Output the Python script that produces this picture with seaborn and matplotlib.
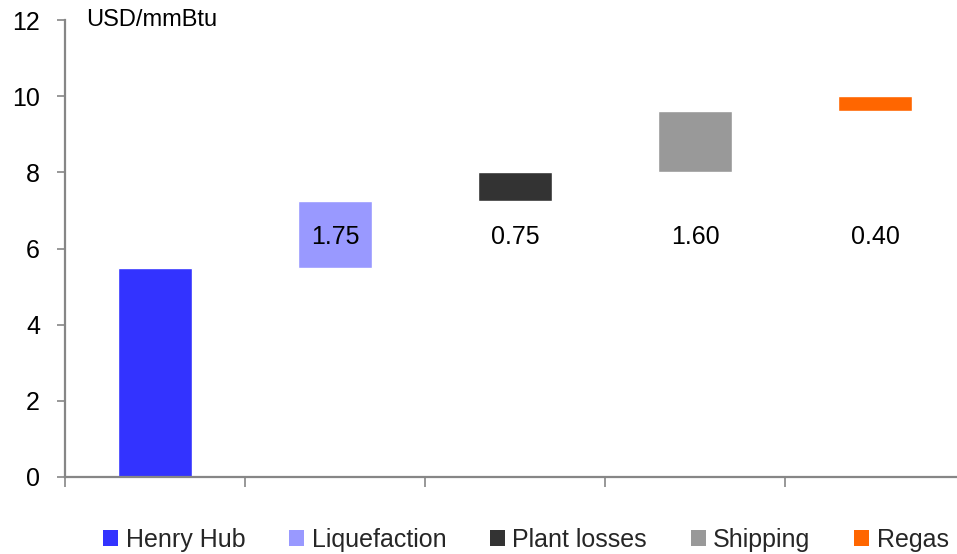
import numpy as np
import pandas as pd
import matplotlib
matplotlib.use("Agg")
import matplotlib.pyplot as plt
import matplotlib.patches as mpatches
import seaborn as sns

# LNG cost build-up, USD/mmBtu
categories = ["Henry Hub", "Liquefaction", "Plant losses", "Shipping", "Regas"]
steps = [5.50, 1.75, 0.75, 1.60, 0.40]
step_labels = ["", "1.75", "0.75", "1.60", "0.40"]
colors = ["#3333FF", "#9999FF", "#333333", "#999999", "#FF6600"]
y_ticks = [0, 2, 4, 6, 8, 10, 12]

bases = np.concatenate([[0.0], np.cumsum(steps)[:-1]])
df = pd.DataFrame({"item": categories, "step": steps, "base": bases})

sns.set_theme(style="white")
plt.rcParams["font.family"] = ["Liberation Sans", "DejaVu Sans"]

fig = plt.figure(figsize=(9.57, 5.54), dpi=100)
ax = fig.add_axes([65 / 957, 1 - 477 / 554, 1 - 65 / 957, (477 - 20) / 554])

sns.barplot(data=df, x="item", y="step", hue="item", palette=colors,
            order=categories, hue_order=categories, width=0.41,
            legend=False, saturation=1, ax=ax)

# float each step on top of the running total
for container, base in zip(ax.containers, bases):
    for patch in container:
        patch.set_y(base)

for i, txt in enumerate(step_labels):
    if txt:
        ax.text(i, 6.3, txt, ha="center", va="center", fontsize=18,
                color="black", zorder=5)

ax.set_ylim(0, 12)
ax.set_xlim(-0.5, -0.5 + (957 - 65) / 180)
ax.set_yticks(y_ticks)
ax.set_yticklabels([str(t) for t in y_ticks], fontsize=18)
ax.set_xticks([-0.5, 0.5, 1.5, 2.5, 3.5])
ax.set_xticklabels([])
ax.set_xlabel("")
ax.set_ylabel("")

axis_gray = "#868686"
for side in ["top", "right"]:
    ax.spines[side].set_visible(False)
for side in ["left", "bottom"]:
    ax.spines[side].set_color(axis_gray)
    ax.spines[side].set_linewidth(1.6)
ax.tick_params(axis="y", direction="out", length=6, width=1.2,
               color=axis_gray, pad=12, left=True, labelcolor="black")
ax.tick_params(axis="x", direction="out", length=7, width=1.2,
               color=axis_gray, bottom=True)

ax.text(21 / 892, 1.0, "USD/mmBtu", transform=ax.transAxes,
        ha="left", va="center", fontsize=17, color="black")

handles = [mpatches.Patch(facecolor=c, edgecolor="none", label=l)
           for c, l in zip(colors, categories)]
fig.legend(handles=handles, loc="center", ncol=5, frameon=False,
           bbox_to_anchor=(526 / 957, 1 - 540 / 554), fontsize=18,
           handlelength=0.6, handleheight=0.6, handletextpad=0.3,
           columnspacing=1.75, borderaxespad=0)

fig.savefig("out.png", dpi=100)
